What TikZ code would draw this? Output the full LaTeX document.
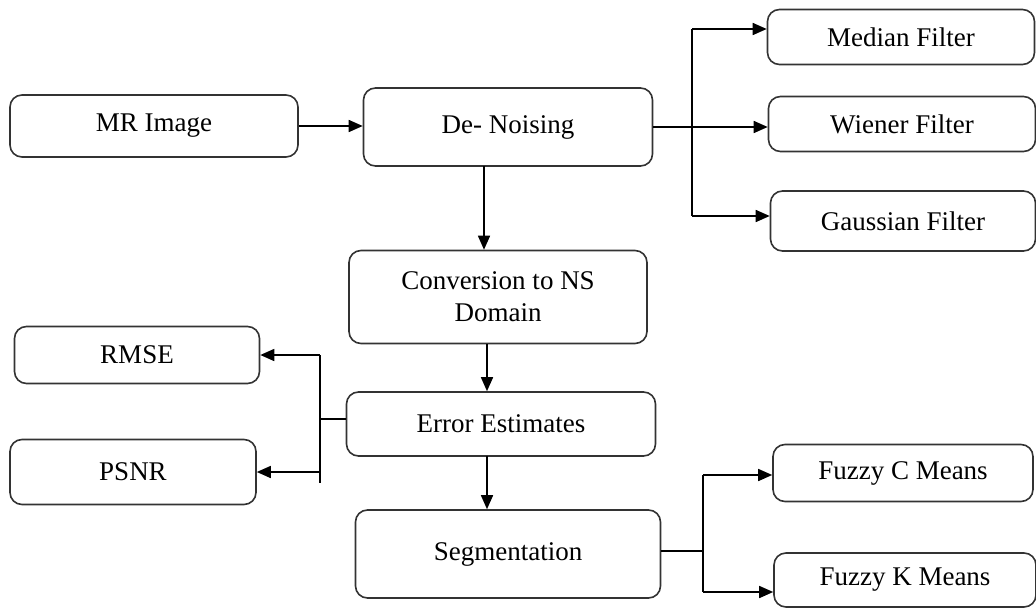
\documentclass[tikz,border=0pt]{standalone}
\usepackage{fontspec}
\setmainfont{Liberation Serif}
\usetikzlibrary{arrows.meta,calc}
\begin{document}
\begin{tikzpicture}[x=1pt,y=-1pt,
  box/.style={draw=black!80, line width=1.6pt, rounded corners=12pt, inner sep=0pt,
    font=\fontsize{27}{32}\selectfont, align=center},
  conn/.style={draw=black, line width=1.6pt},
  arr/.style={conn, -{Triangle[length=14pt,width=12pt]}}]
\useasboundingbox (0,0) rectangle (1036,608);
\node[box, minimum width=288pt, minimum height=62pt] (mri) at (154,126) {MR Image};
\node[box, minimum width=289pt, minimum height=78pt] (den) at (508,127) {De- Noising};
\node[box, minimum width=267pt, minimum height=55pt] (med) at (901,37) {Median Filter};
\node[box, minimum width=267pt, minimum height=55pt] (wie) at (902,124) {Wiener Filter};
\node[box, minimum width=265pt, minimum height=60pt] (gau) at (903,221) {Gaussian Filter};
\node[box, minimum width=298pt, minimum height=93pt] (con) at (498,297) {Conversion to NS\\Domain};
\node[box, minimum width=245pt, minimum height=57pt] (rms) at (137,355) {RMSE};
\node[box, minimum width=246pt, minimum height=65pt] (psn) at (133,472) {PSNR};
\node[box, minimum width=309pt, minimum height=64pt] (err) at (501,424) {Error Estimates};
\node[box, minimum width=305pt, minimum height=88pt] (seg) at (508,554) {Segmentation};
\node[box, minimum width=260pt, minimum height=57pt] (fcm) at (903,473) {Fuzzy C Means};
\node[box, minimum width=262pt, minimum height=54pt] (fkm) at (905,580) {Fuzzy K Means};

% MR Image -> De-Noising
\draw[arr] (mri.east) -- (mri.east -| den.west);
% De-Noising -> filters
\draw[arr] (den.east) -- (den.east -| wie.west);
\coordinate (fbt) at (692,29);
\coordinate (fbb) at (692,216);
\draw[conn] (fbt) -- (fbb);
\draw[arr] (fbt) -- (fbt -| med.west);
\draw[arr] (fbb) -- (fbb -| gau.west);
% vertical chain
\coordinate (v1) at (484,166);
\draw[arr] (v1) -- (v1 |- con.north);
\coordinate (v2) at (487,344);
\draw[arr] (v2) -- (v2 |- err.north);
\coordinate (v3) at (487,456);
\draw[arr] (v3) -- (v3 |- seg.north);
% Error Estimates -> RMSE, PSNR
\coordinate (ebt) at (320,355);
\coordinate (ebb) at (320,483);
\coordinate (ebm) at (320,419);
\coordinate (ebp) at (320,472);
\draw[conn] (ebt) -- (ebb);
\draw[conn] (ebm) -- (ebm -| err.west);
\draw[arr] (ebt) -- (ebt -| rms.east);
\draw[arr] (ebp) -- (ebp -| psn.east);
% Segmentation -> Fuzzy
\coordinate (sbt) at (703,475);
\coordinate (sbb) at (703,592);
\coordinate (sbm) at (703,551);
\draw[conn] (sbt) -- (sbb);
\draw[conn] (sbm) -- (sbm -| seg.east);
\draw[arr] (sbt) -- (sbt -| fcm.west);
\draw[arr] (sbb) -- (sbb -| fkm.west);
\end{tikzpicture}
\end{document}
